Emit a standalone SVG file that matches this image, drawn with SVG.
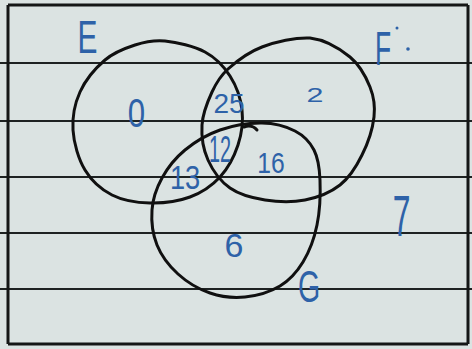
<svg xmlns="http://www.w3.org/2000/svg" width="472" height="349" viewBox="0 0 472 349">
<style>
.rule{stroke:#1e2222;stroke-width:2;fill:none}
.frame{stroke:#141616;stroke-width:3;fill:none}
.set{stroke:#101010;stroke-width:3;fill:none;stroke-linecap:round;stroke-linejoin:round}
.lbl{font-family:"Liberation Sans",Arial,sans-serif;fill:#2e62a8;text-anchor:middle}
</style>
<rect x="0" y="0" width="472" height="349" fill="#dbe3e2"/>
<g id="paper">
<line class="rule" x1="0" y1="63" x2="472" y2="63"/>
<line class="rule" x1="0" y1="121" x2="472" y2="121"/>
<line class="rule" x1="0" y1="177" x2="472" y2="177"/>
<line class="rule" x1="0" y1="233" x2="472" y2="233"/>
<line class="rule" x1="0" y1="289" x2="472" y2="289"/>
<line class="frame" x1="8" y1="5" x2="468" y2="5"/>
<line class="frame" x1="8" y1="344" x2="468" y2="344"/>
<line class="frame" x1="8" y1="5" x2="8" y2="344"/>
<line class="frame" x1="468" y1="5" x2="468" y2="344"/>
</g>
<g id="set-E">
<path class="set" d="M165,41 C176.7,42.2 194.2,46.2 205,52 C215.8,57.8 223.8,66.3 230,76 C236.2,85.7 240.7,98.5 242,110 C243.3,121.5 241.7,133.8 238,145 C234.3,156.2 228,168.3 220,177 C212,185.7 201.7,192.7 190,197 C178.3,201.3 163,203.3 150,203 C137,202.7 122.8,200.5 112,195 C101.2,189.5 91.5,180.8 85,170 C78.5,159.2 73.8,143 73,130 C72.2,117 74.7,103.7 80,92 C85.3,80.3 95.8,67.8 105,60 C114.2,52.2 125,48.2 135,45 C145,41.8 153.3,39.8 165,41 Z"/>
<text class="lbl" font-size="46" transform="translate(87.5,53) scale(0.65,1)">E</text>
</g>
<g id="set-F">
<path class="set" d="M310,38 C324.7,39.7 340,48.8 350,57 C360,65.2 366,77 370,87 C374,97 375.3,105.7 374,117 C372.7,128.3 367.7,143.7 362,155 C356.3,166.7 349.5,177.5 340,185 C330.5,192.5 317.5,197.5 305,200 C292.5,202.5 277.5,202 265,200 C252.5,198 239.5,194.7 230,188 C220.5,181.3 212.7,170.5 208,160 C203.3,149.5 201.3,136.3 202,125 C202.7,113.7 207.7,101.3 212,92 C216.3,82.7 219.7,76.5 228,69 C236.3,61.5 248.3,52.2 262,47 C275.7,41.8 295.3,37.3 310,38 Z"/>
<text class="lbl" font-size="48" transform="translate(383,65) scale(0.55,1)">F</text>
<circle cx="397" cy="28" r="1.5" fill="#2e62a8"/>
<circle cx="408" cy="49" r="1.8" fill="#2e62a8"/>
</g>
<g id="set-G">
<path class="set" d="M262,123 C274.5,123.2 286.3,126.5 295,131 C303.7,135.5 309.8,141.8 314,150 C318.2,158.2 319.5,167.5 320,180 C320.5,192.5 319.8,211.3 317,225 C314.2,238.7 309.2,251.8 303,262 C296.8,272.2 289.7,280.2 280,286 C270.3,291.8 256.7,295.8 245,297 C233.3,298.2 221.2,296.8 210,293 C198.8,289.2 186.8,282 178,274 C169.2,266 161.3,255.7 157,245 C152.7,234.3 151.2,221.2 152,210 C152.8,198.8 156.5,188 162,178 C167.5,168 175.3,158 185,150 C194.7,142 207.2,134.5 220,130 C232.8,125.5 249.5,122.8 262,123 Z"/>
<path class="set" stroke-width="2" d="M244,127 Q252,124 257,130"/>
<text class="lbl" font-size="44" transform="translate(309,302) scale(0.65,1)">G</text>
</g>
<g id="values">
<text class="lbl" font-size="40" transform="translate(136.5,127) scale(0.78,1)">0</text>
<text class="lbl" font-size="28" x="229" y="113">25</text>
<text class="lbl" font-size="21" transform="translate(315,102) scale(1.45,1)">2</text>
<text class="lbl" font-size="36" transform="translate(220,162) scale(0.55,1)">12</text>
<text class="lbl" font-size="29" transform="translate(271,173) scale(0.85,1)">16</text>
<text class="lbl" font-size="34" transform="translate(185,189) scale(0.8,1)">13</text>
<text class="lbl" font-size="34" x="234" y="257">6</text>
<text class="lbl" font-size="58" transform="translate(401.5,236) scale(0.55,1)">7</text>
</g>
</svg>
